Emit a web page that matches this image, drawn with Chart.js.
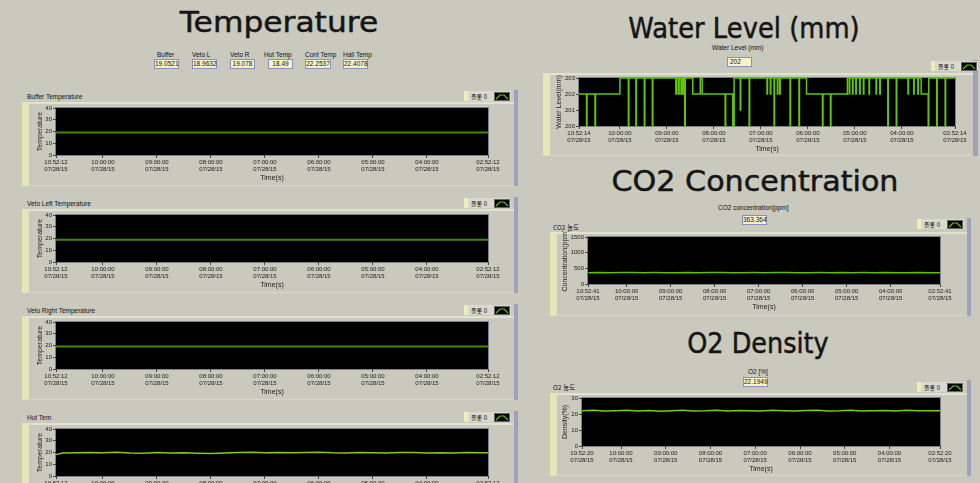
<!DOCTYPE html>
<html lang="ko">
<head>
<meta charset="UTF-8" />
<title>Monitoring - Temperature / Water / CO2 / O2</title>
<script src="https://cdn.jsdelivr.net/npm/chart.js"></script>
<style>
  body {
    margin: 0;
    width: 980px;
    height: 483px;
    overflow: hidden;
    position: relative;
    background: #c9c9bd;
    font-family: "Liberation Sans", Arial, sans-serif;
    color: #111;
  }
  .abs { position: absolute; white-space: nowrap; }
  .big {
    font-family: "DejaVu Sans", sans-serif;
    font-size: 29px;
    line-height: 32px;
    color: #151515;
    -webkit-text-stroke: 0.5px #151515;
  }
  .lbl { font-size: 6.5px; line-height: 8px; }
  .ind {
    position: absolute;
    box-sizing: border-box;
    height: 10px;
    border: 1px solid #8d8dc6;
    background: #f4f4c8;
    font-size: 6.5px;
    line-height: 8px;
    text-align: center;
  }
  .frame {
    position: absolute;
    box-sizing: border-box;
    border-top: 2px solid #e2e2d0;
    border-left: 7px solid #e6e6b6;
    border-bottom: 1px solid #d6d6ca;
  }
  .rb { position: absolute; background: #a0a0ba; }
  .leg {
    position: absolute;
    height: 10px;
    width: 47px;
    display: flex;
    align-items: center;
    box-sizing: border-box;
    background: #d9d9cd;
    border-left: 4px solid #eeeeb8;
    font-family: "Noto Sans CJK KR", sans-serif;
    font-size: 6px;
  }
  .leg span { flex: 1; padding-left: 3px; }
  .leg svg { display: block; margin-right: 1px; }
</style>
</head>
<body>

<!-- titles -->
<div class="abs big" style="left:279px;top:6px;transform:translateX(-50%) scaleX(1.08)">Temperature</div>
<div class="abs big" style="left:744px;top:12px;transform:translateX(-50%) scaleX(0.89)">Water Level (mm)</div>
<div class="abs big" style="left:755px;top:165px;transform:translateX(-50%) scaleX(1.04)">CO2 Concentration</div>
<div class="abs big" style="left:758px;top:327px;transform:translateX(-50%) scaleX(0.88)">O2 Density</div>

<!-- temperature indicators -->
<div class="abs lbl" style="left:157px;top:51px">Buffer</div>
<div class="abs lbl" style="left:192px;top:51px">Veto L</div>
<div class="abs lbl" style="left:230px;top:51px">Veto R</div>
<div class="abs lbl" style="left:264px;top:51px">Hut Temp</div>
<div class="abs lbl" style="left:305px;top:51px">Cont Temp</div>
<div class="abs lbl" style="left:343px;top:51px">Hall Temp</div>
<div class="ind" style="left:154px;top:59px;width:25px">19.0521</div>
<div class="ind" style="left:192px;top:59px;width:25px">18.9632</div>
<div class="ind" style="left:230px;top:59px;width:25px">19.078</div>
<div class="ind" style="left:268px;top:59px;width:25px">18.49</div>
<div class="ind" style="left:305px;top:59px;width:26px">22.2537</div>
<div class="ind" style="left:343px;top:59px;width:25px">22.4078</div>

<!-- left panels -->
<div class="abs lbl" style="left:27px;top:93px">Buffer Temperature</div>
<div class="frame" style="left:22px;top:102px;width:492px;height:84px"></div>
<div class="rb" style="left:514px;top:90px;width:4px;height:96px"></div>

<div class="abs lbl" style="left:27px;top:200px">Veto Left Temperature</div>
<div class="frame" style="left:22px;top:209px;width:492px;height:84px"></div>
<div class="rb" style="left:514px;top:197px;width:4px;height:96px"></div>

<div class="abs lbl" style="left:27px;top:307px">Veto Right Temperature</div>
<div class="frame" style="left:22px;top:316px;width:492px;height:84px"></div>
<div class="rb" style="left:514px;top:304px;width:4px;height:96px"></div>

<div class="abs lbl" style="left:27px;top:414px">Hut Tem</div>
<div class="frame" style="left:22px;top:423px;width:492px;height:84px"></div>
<div class="rb" style="left:514px;top:411px;width:4px;height:96px"></div>

<!-- right panels -->
<div class="abs lbl" style="left:712px;top:44px">Water Level (mm)</div>
<div class="ind" style="left:727px;top:57px;width:25px;text-align:left;padding-left:2px">202</div>
<div class="frame" style="left:543px;top:73px;width:430px;height:83px"></div>
<div class="rb" style="left:973px;top:60px;width:5px;height:96px"></div>

<div class="abs lbl" style="left:718px;top:204px">CO2 concentration[ppm]</div>
<div class="ind" style="left:742px;top:215px;width:25px">363.364</div>
<div class="abs lbl" style="left:553px;top:223px;font-family:'Noto Sans CJK KR'">CO2 농도</div>
<div class="frame" style="left:550px;top:232px;width:417px;height:84px"></div>
<div class="rb" style="left:967px;top:218px;width:4px;height:98px"></div>

<div class="abs lbl" style="left:748px;top:368px">O2 [%]</div>
<div class="ind" style="left:743px;top:377px;width:25px">22.1949</div>
<div class="abs lbl" style="left:553px;top:383px;font-family:'Noto Sans CJK KR'">O2 농도</div>
<div class="frame" style="left:550px;top:393px;width:417px;height:83px"></div>
<div class="rb" style="left:967px;top:380px;width:4px;height:96px"></div>

<script>
// ---- time axes (hours of day, newest on the left) ----
const DATE = '07/28/15';
const tempTicks = [10.8700, 10, 9, 8, 7, 6, 5, 4, 2.8700];
const tempTickLabels = ['10:52:12', '10:00:00', '09:00:00', '08:00:00', '07:00:00', '06:00:00', '05:00:00', '04:00:00', '02:52:12'];
const waterTicks = [10.8706, 10, 9, 8, 7, 6, 5, 4, 2.8706];
const waterTickLabels = ['10:52:14', '10:00:00', '09:00:00', '08:00:00', '07:00:00', '06:00:00', '05:00:00', '04:00:00', '02:52:14'];
const co2Ticks = [10.8781, 10, 9, 8, 7, 6, 5, 4, 2.8781];
const co2TickLabels = ['10:52:41', '10:00:00', '09:00:00', '08:00:00', '07:00:00', '06:00:00', '05:00:00', '04:00:00', '02:52:41'];
const o2Ticks = [10.8722, 10, 9, 8, 7, 6, 5, 4, 2.8722];
const o2TickLabels = ['10:52:20', '10:00:00', '09:00:00', '08:00:00', '07:00:00', '06:00:00', '05:00:00', '04:00:00', '02:52:20'];

// ---- temperatures ----
const flatHours = [10.87, 8.87, 6.87, 4.87, 2.87];
const bufferTemp = [19.05, 19.05, 19.05, 19.05, 19.05];
const vetoLeftTemp = [18.96, 18.96, 18.96, 18.96, 18.96];
const vetoRightTemp = [19.08, 19.08, 19.08, 19.08, 19.08];

const hutHours = [10.87, 10.75, 10.5, 10.25, 10, 9.75, 9.5, 9.25, 9, 8.75, 8.5, 8.25, 8, 7.75, 7.5, 7.25, 7,
  6.75, 6.5, 6.25, 6, 5.75, 5.5, 5.25, 5, 4.75, 4.5, 4.25, 4, 3.75, 3.5, 3.25, 3, 2.87];
const hutTemp = [18.2, 19.6, 19.8, 20.1, 19.7, 20.2, 19.6, 19.3, 19.9, 19.5, 19.8, 19.4, 19.2, 19.6, 19.9, 20.2, 19.8,
  20.1, 19.7, 19.9, 20.3, 19.8, 19.6, 20.0, 19.7, 19.5, 19.9, 20.1, 19.6, 19.8, 19.5, 19.9, 19.7, 19.8];

// ---- water level (mm), value changes at each listed hour ----
const waterHours = [10.87, 10.71, 10.70, 10.53, 10.52, 10.00, 9.82, 9.81, 9.66, 9.65, 9.48, 9.47, 9.31, 9.30,
  8.81, 8.79, 8.75, 8.74, 8.70, 8.68, 8.66, 8.65, 8.62, 8.61, 8.45, 8.29, 8.25, 7.76, 7.75, 7.60, 7.57,
  7.44, 7.43, 7.25, 7.24, 6.87, 6.86, 6.80, 6.79, 6.72, 6.71, 6.65, 6.64, 6.60, 6.59, 6.38, 6.37, 6.19, 6.18,
  6.03, 5.69, 5.68, 5.52, 5.51, 5.16, 5.12, 5.11, 5.05, 5.04, 4.98, 4.97, 4.90, 4.89, 4.82, 4.81, 4.70, 4.69,
  4.55, 4.54, 4.47, 4.46, 4.30, 4.29, 4.12, 4.11, 3.87, 3.86, 3.75, 3.74, 3.66, 3.65, 3.59, 3.44, 3.43,
  3.26, 3.25, 3.08, 3.07, 2.87];
const waterLevel = [202, 200, 202, 200, 202, 203, 200, 203, 200, 203, 200, 203, 200, 203,
  202, 203, 202, 203, 202, 203, 202, 203, 200, 203, 202, 203, 202, 200, 202, 200, 203,
  201, 203, 200, 203, 202, 203, 202, 203, 200, 203, 202, 203, 202, 203, 200, 203, 200, 203,
  202, 200, 202, 200, 202, 203, 202, 203, 202, 203, 202, 203, 202, 203, 202, 203, 202, 203,
  202, 203, 202, 203, 200, 203, 200, 203, 202, 203, 202, 203, 202, 203, 202, 200, 203,
  200, 203, 200, 203, 203];

// ---- CO2 (ppm) and O2 (%) ----
const gasHours = [10.87, 10.62, 10.37, 10.12, 9.87, 9.62, 9.37, 9.12, 8.87, 8.62, 8.37, 8.12, 7.87, 7.62, 7.37, 7.12,
  6.87, 6.62, 6.37, 6.12, 5.87, 5.62, 5.37, 5.12, 4.87, 4.62, 4.37, 4.12, 3.87, 3.62, 3.37, 3.12, 2.87];
const co2Ppm = [362, 366, 360, 364, 368, 361, 365, 363, 359, 366, 362, 364, 367, 360, 363, 365, 361,
  364, 368, 362, 360, 365, 363, 366, 361, 364, 362, 367, 363, 360, 365, 362, 363];
const o2Pct = [22.0, 22.3, 21.8, 22.1, 22.4, 21.9, 22.2, 21.7, 22.1, 22.3, 21.9, 22.0, 22.4, 21.8, 22.2, 22.0, 21.9,
  22.3, 22.1, 21.8, 22.2, 22.4, 21.9, 22.0, 22.3, 21.8, 22.1, 22.2, 21.9, 22.3, 22.0, 22.1, 22.0];

Chart.defaults.font.family = '"Liberation Sans", Arial, sans-serif';

// black plot area with grey frame
const plotBg = {
  id: 'plotBg',
  beforeDraw(chart) {
    const a = chart.chartArea, ctx = chart.ctx;
    ctx.save();
    ctx.fillStyle = '#000';
    ctx.fillRect(a.left, a.top, a.right - a.left, a.bottom - a.top);
    ctx.strokeStyle = '#7f7f92';
    ctx.lineWidth = 1;
    ctx.strokeRect(a.left - 0.5, a.top - 0.5, a.right - a.left + 1, a.bottom - a.top + 1);
    ctx.restore();
  }
};

function series(hours, vals, color, width, stepped) {
  return {
    data: hours.map((h, i) => ({ x: h, y: vals[i] })),
    borderColor: color,
    borderWidth: width,
    pointRadius: 0,
    stepped: stepped || false,
    clip: 2
  };
}

function plot(r, yw, xT, xL, y, sets) {
  const pt = 6, pr = 22, xh = 27;
  const w = r.R - r.L + yw + pr, h = r.B - r.T + pt + xh;
  const c = document.createElement('canvas');
  c.width = w; c.height = h;
  c.style.cssText = 'position:absolute;left:' + (r.L - yw) + 'px;top:' + (r.T - pt) + 'px;width:' + w + 'px;height:' + h + 'px';
  document.body.appendChild(c);
  new Chart(c, {
    type: 'line',
    data: { datasets: sets },
    options: {
      responsive: false,
      animation: false,
      layout: { autoPadding: false, padding: { top: pt, right: pr, left: 0, bottom: 0 } },
      plugins: { legend: { display: false }, tooltip: { enabled: false } },
      scales: {
        x: {
          type: 'linear', reverse: true, bounds: 'data',
          min: xT[xT.length - 1], max: xT[0],
          afterBuildTicks: s => { s.ticks = xT.map(v => ({ value: v })); },
          afterFit: s => { s.height = xh; },
          ticks: { autoSkip: false, maxRotation: 0, padding: 1, color: '#222',
                   font: { size: 6, lineHeight: 1.17 },
                   callback: (v, i) => [xL[i], DATE] },
          grid: { drawOnChartArea: false, tickLength: 3, color: '#444' },
          border: { display: false },
          title: { display: true, text: 'Time(s)', color: '#222', font: { size: 7 }, padding: 0 }
        },
        y: {
          min: y.min, max: y.max,
          afterFit: s => { s.width = yw; },
          ticks: { stepSize: y.step, padding: 1, color: '#222', font: { size: 6 },
                   callback: v => String(v) },
          grid: { drawOnChartArea: false, tickLength: 3, color: '#444' },
          border: { display: false },
          title: { display: true, text: y.title, color: '#222', font: { size: 7 }, padding: 0 }
        }
      }
    },
    plugins: [plotBg]
  });
}

const tempY = { min: 0, max: 40, step: 10, title: 'Temperature' };
plot({ L: 56, T: 108, R: 488, B: 155 }, 20, tempTicks, tempTickLabels, tempY,
  [series(flatHours, bufferTemp, '#3d8a07', 2)]);
plot({ L: 56, T: 215, R: 488, B: 262 }, 20, tempTicks, tempTickLabels, tempY,
  [series(flatHours, vetoLeftTemp, '#3d8a07', 2)]);
plot({ L: 56, T: 322, R: 488, B: 369 }, 20, tempTicks, tempTickLabels, tempY,
  [series(flatHours, vetoRightTemp, '#3d8a07', 2)]);
plot({ L: 56, T: 429, R: 488, B: 476 }, 20, tempTicks, tempTickLabels, tempY,
  [series(hutHours, hutTemp, '#86c820', 1.5)]);

plot({ L: 579, T: 78, R: 955, B: 126 }, 24, waterTicks, waterTickLabels,
  { min: 200, max: 203, step: 1, title: 'Water Level(mm)' },
  [series(waterHours, waterLevel, '#5fc70a', 1.5, true)]);
plot({ L: 588, T: 237, R: 940, B: 284 }, 27, co2Ticks, co2TickLabels,
  { min: 0, max: 1500, step: 500, title: 'Concentration(ppm)' },
  [series(gasHours, co2Ppm, '#5cbf0c', 1.5)]);
plot({ L: 582, T: 398, R: 940, B: 446 }, 21, o2Ticks, o2TickLabels,
  { min: 0, max: 30, step: 10, title: 'Density(%)' },
  [series(gasHours, o2Pct, '#6fd112', 1.5)]);

// legend boxes "플롯 0"
const legendSpots = [[464, 91], [464, 198], [464, 305], [464, 412], [931, 61], [917, 219], [917, 382]];
legendSpots.forEach(p => {
  const d = document.createElement('div');
  d.className = 'leg';
  d.style.left = p[0] + 'px';
  d.style.top = p[1] + 'px';
  d.innerHTML = '<span>플롯 0</span><svg width="16" height="9"><rect x="0.5" y="0.5" width="15" height="8" fill="#000" stroke="#666"/>' +
    '<polyline points="2,7 6,3 10,3 14,7" fill="none" stroke="#5fc70a" stroke-width="1.2"/></svg>';
  document.body.appendChild(d);
});
</script>
</body>
</html>
